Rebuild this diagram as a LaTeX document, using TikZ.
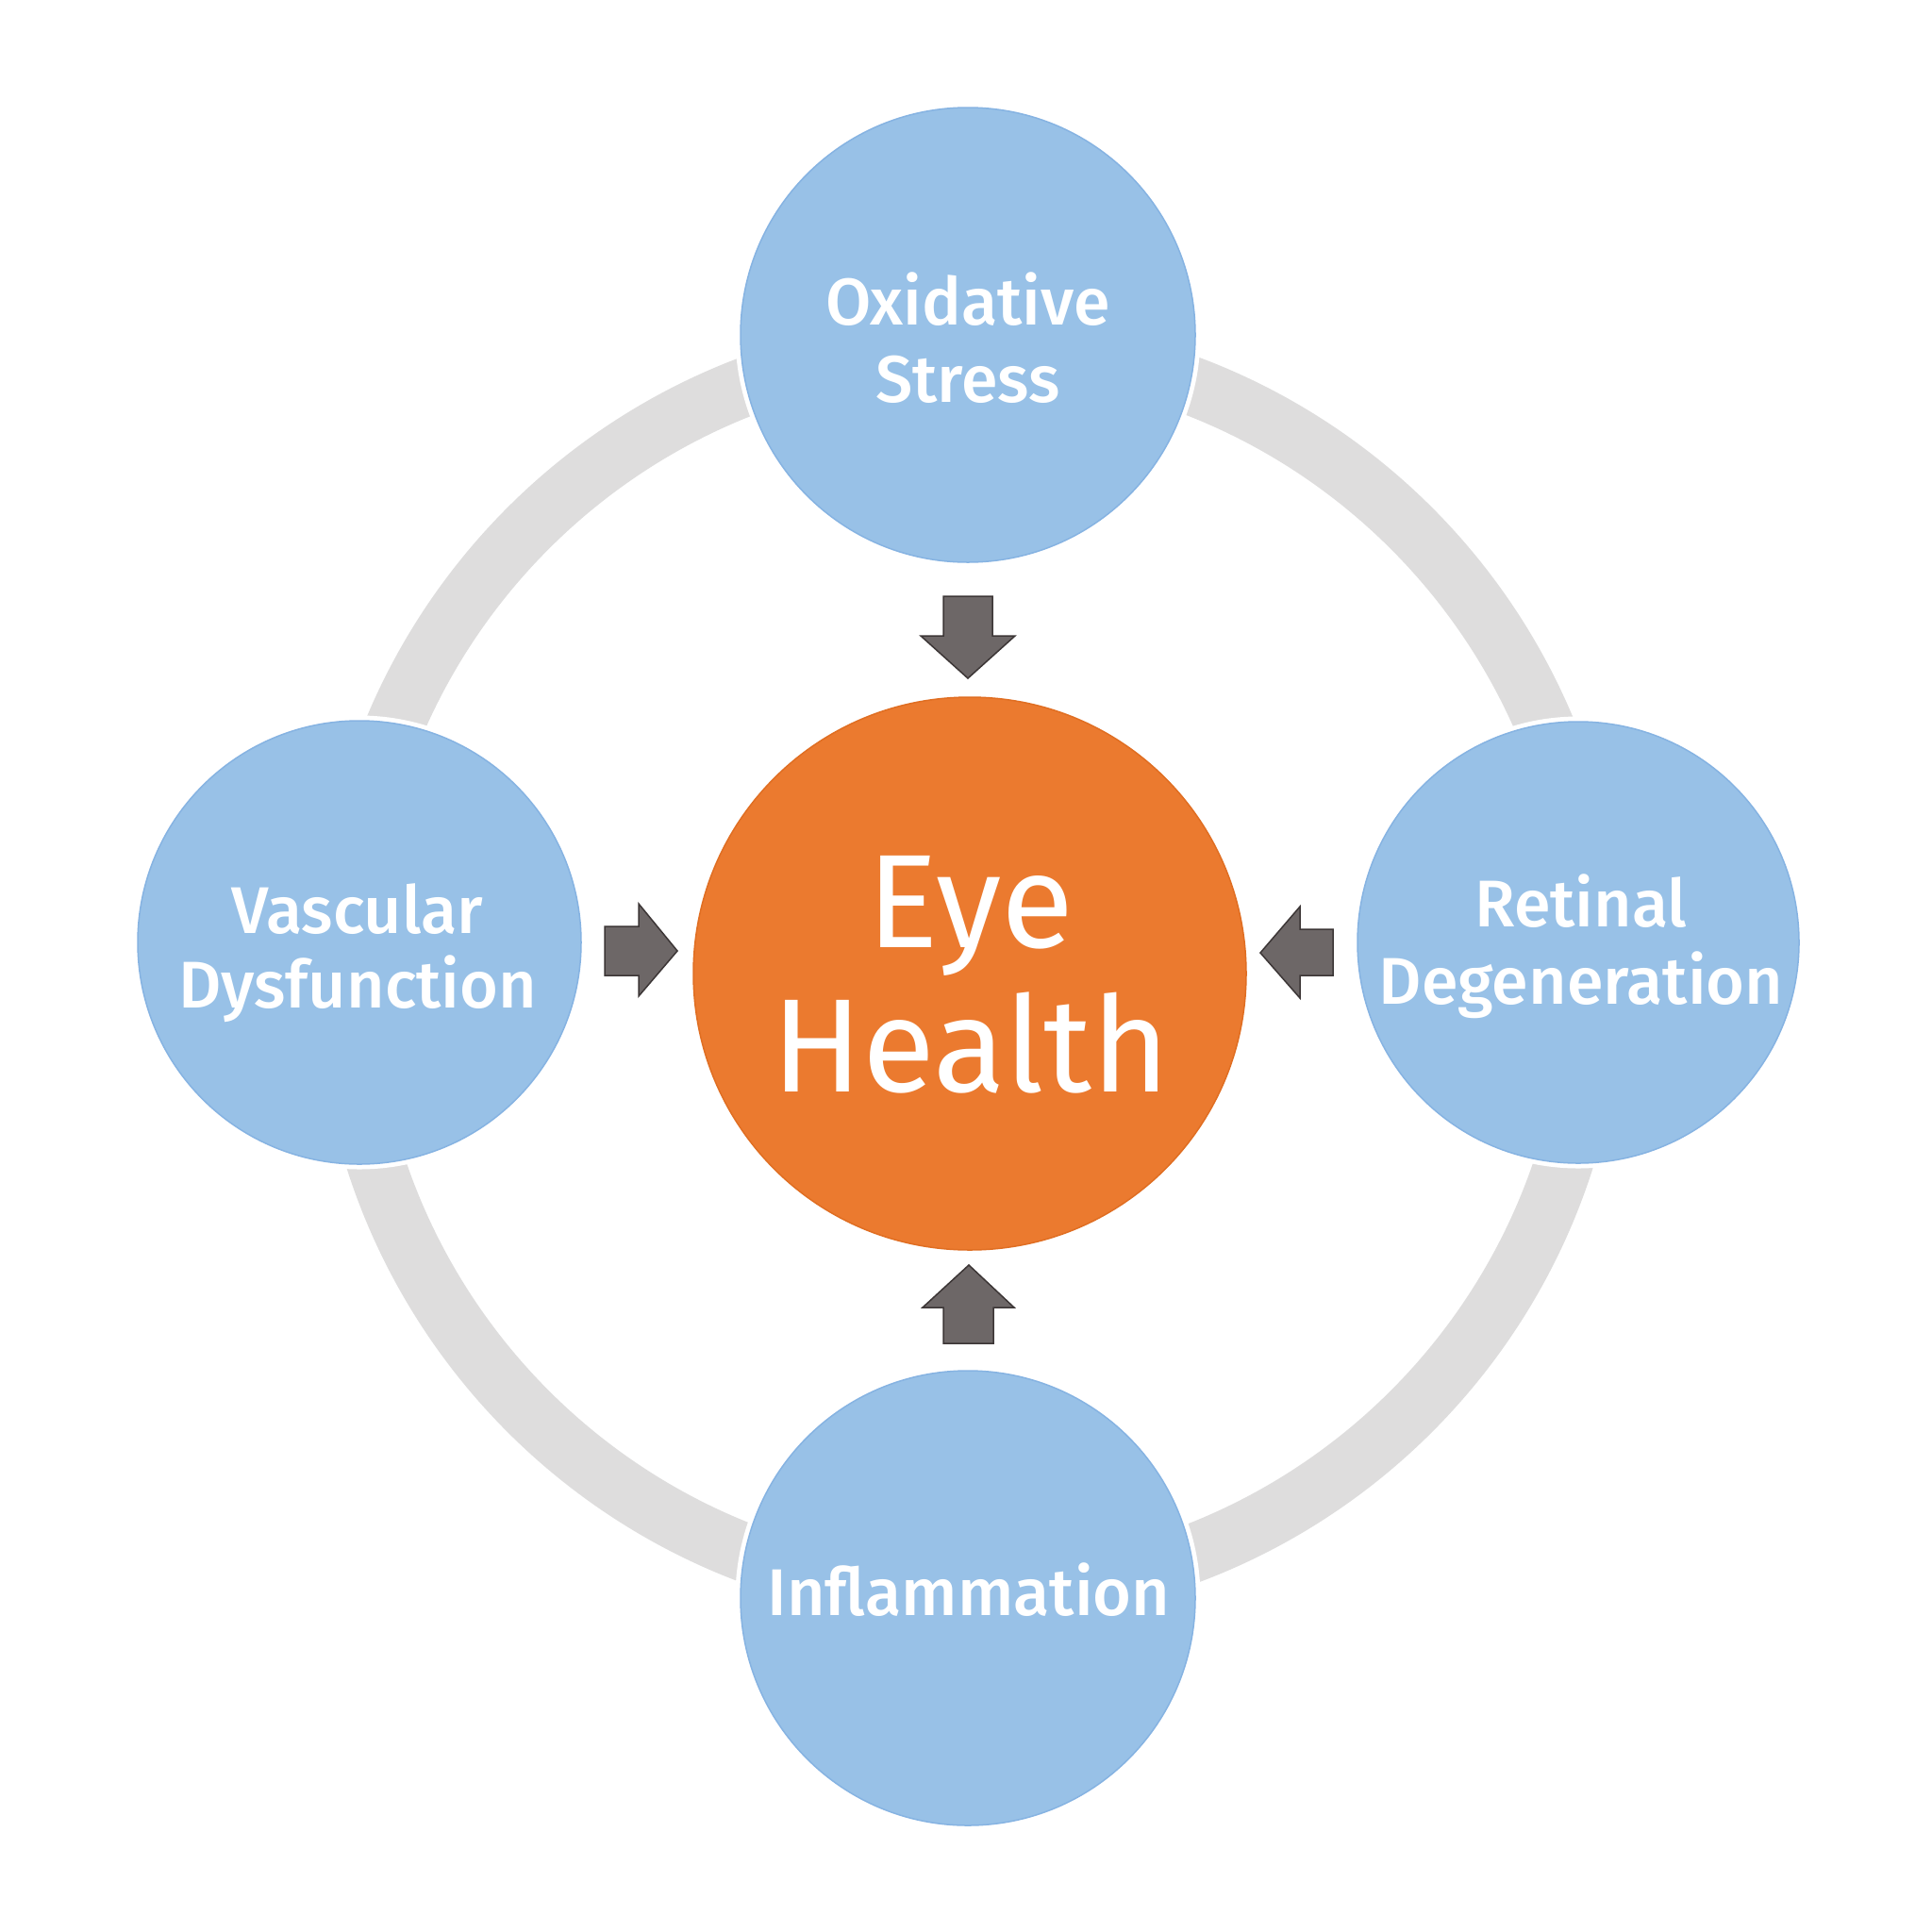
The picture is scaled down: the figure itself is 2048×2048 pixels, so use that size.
\documentclass[tikz,border=0pt]{standalone}
\usepackage{fontspec}
\setmainfont{Fira Sans}
\newfontfamily\labelfont{Fira Sans Medium}
\definecolor{ringgray}{HTML}{DEDDDD}
\definecolor{blueFill}{HTML}{98C1E7}
\definecolor{blueEdge}{HTML}{86B3E2}
\definecolor{orangeFill}{HTML}{EB7A2F}
\definecolor{orangeEdge}{HTML}{E06E22}
\definecolor{arrowFill}{HTML}{6D6767}
\definecolor{arrowEdge}{HTML}{3C3636}
\tikzset{
  bluecirc/.style={circle, inner sep=0pt, fill=blueFill, draw=blueEdge, line width=1.5pt,
    preaction={draw=white, line width=11pt}},
  hubcirc/.style={circle, inner sep=0pt, fill=orangeFill, draw=orangeEdge, line width=1.5pt},
  lbl/.style={text=white, font=\labelfont\fontsize{70}{78}\selectfont, anchor=base, inner sep=0pt},
  hublbl/.style={text=white, font=\fontsize{141}{153}\selectfont, anchor=base, inner sep=0pt},
  blockarrow/.style={fill=arrowFill, draw=arrowEdge, line width=1.5pt, line join=miter},
}
\begin{document}
\begin{tikzpicture}[x=1pt,y=-1pt]
\useasboundingbox[fill=white] (0,0) rectangle (2048,2048);
% ring
\draw[ringgray, line width=62pt] (1028,1028) circle (662pt);
% nodes
\node[hubcirc, minimum size=586pt] (hub) at (1028,1032) {};
\node[bluecirc, minimum size=482pt] (ox) at (1026,355) {};
\node[bluecirc, minimum size=470pt] (vas) at (381,999) {};
\node[bluecirc, minimum size=468pt] (ret) at (1673,999) {};
\node[bluecirc, minimum size=482pt] (inf) at (1026,1694) {};
% labels
\node[hublbl] (hubA) at (1029,1004) {Eye};
\node[hublbl] (hubB) at (1029,1157) {Health};
\node[lbl] (oxA) at (1026,344) {Oxidative};
\node[lbl] (oxB) at (1026,426) {Stress};
\node[lbl] (vasA) at (379,989) {Vascular};
\node[lbl] (vasB) at (379,1068) {Dysfunction};
\node[lbl] (retA) at (1676,982) {Retinal};
\node[lbl] (retB) at (1676,1064) {Degeneration};
\node[lbl] (infA) at (1027,1712) {Inflammation};
% block arrows
\draw[blockarrow] (1000,632) -- (1052,632) -- (1052,674) -- (1076,674) -- (1026,719) -- (976,674) -- (1000,674) -- cycle;
\draw[blockarrow] (1000,1424) -- (1053,1424) -- (1053,1386) -- (1075,1386) -- (1027,1341) -- (978,1386) -- (1000,1386) -- cycle;
\draw[blockarrow] (641,982) -- (677,982) -- (677,958) -- (718,1008) -- (677,1056) -- (677,1034) -- (641,1034) -- cycle;
\draw[blockarrow] (1413,985) -- (1378,985) -- (1378,961) -- (1336,1010) -- (1378,1058) -- (1378,1034) -- (1413,1034) -- cycle;
\end{tikzpicture}
\end{document}
